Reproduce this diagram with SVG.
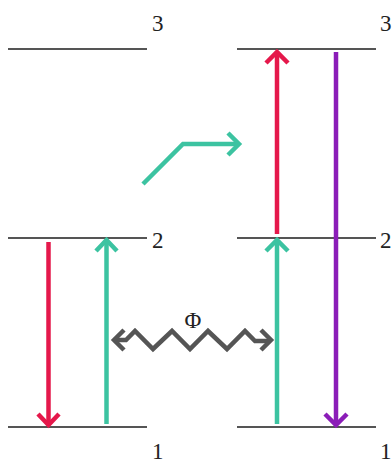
<svg xmlns="http://www.w3.org/2000/svg" width="392" height="463" viewBox="0 0 392 463">
<style>
.lvl{stroke:#555;stroke-width:2;fill:none}
.lbl{font-family:"Liberation Serif","Times New Roman",serif;font-size:23px;fill:#222}
.a{fill:none;stroke-width:4.5;stroke-linecap:butt;stroke-linejoin:miter}
.red{stroke:#E5184B}
.teal{stroke:#3CC3A1}
.pur{stroke:#8B1DB8}
.gray{stroke:#555}
</style>
<rect width="392" height="463" fill="#fff"/>
<g id="levels-left">
<line class="lvl" x1="8" y1="49" x2="147" y2="49"/>
<line class="lvl" x1="8" y1="238" x2="147" y2="238"/>
<line class="lvl" x1="8" y1="427" x2="147" y2="427"/>
<text class="lbl" x="152" y="31">3</text>
<text class="lbl" x="152" y="248">2</text>
<text class="lbl" x="152" y="459">1</text>
</g>
<g id="levels-right">
<line class="lvl" x1="237" y1="49" x2="376" y2="49"/>
<line class="lvl" x1="237" y1="238" x2="376" y2="238"/>
<line class="lvl" x1="237" y1="427" x2="376" y2="427"/>
<text class="lbl" x="380" y="31">3</text>
<text class="lbl" x="380" y="248">2</text>
<text class="lbl" x="380" y="459">1</text>
</g>
<g id="connectors">
<g id="left-red-down">
<line class="a red" x1="48.5" y1="242" x2="48.5" y2="424"/>
<polyline class="a red" points="38,414 48.5,425 59,414"/>
</g>
<g id="left-teal-up">
<line class="a teal" x1="106.5" y1="424" x2="106.5" y2="241"/>
<polyline class="a teal" points="96,251 106.5,240 117,251"/>
</g>
<g id="bent-teal">
<polyline class="a teal" points="143,184 183,144 239,144"/>
<polyline class="a teal" points="228,133 239,144 228,155"/>
</g>
<g id="right-red-up">
<line class="a red" x1="277" y1="234" x2="277" y2="53"/>
<polyline class="a red" points="266,63 277,52 288,63"/>
</g>
<g id="right-teal-up">
<line class="a teal" x1="277" y1="424" x2="277" y2="241"/>
<polyline class="a teal" points="266,251 277,240 288,251"/>
</g>
<g id="purple-down">
<line class="a pur" x1="336" y1="52" x2="336" y2="424"/>
<polyline class="a pur" points="325,414 336,425 347,414"/>
</g>
<g id="zigzag">
<polyline class="a gray" points="114,340 126,340 135,331 153,349 172,331 190,349 208,331 227,349 245,331 255,341 270,341"/>
<polyline class="a gray" points="124,330 114,340 124,350"/>
<polyline class="a gray" points="261,330 271,340 261,350"/>
<text class="lbl" x="193" y="328" text-anchor="middle" font-size="21">Φ</text>
</g>
</g>
</svg>
